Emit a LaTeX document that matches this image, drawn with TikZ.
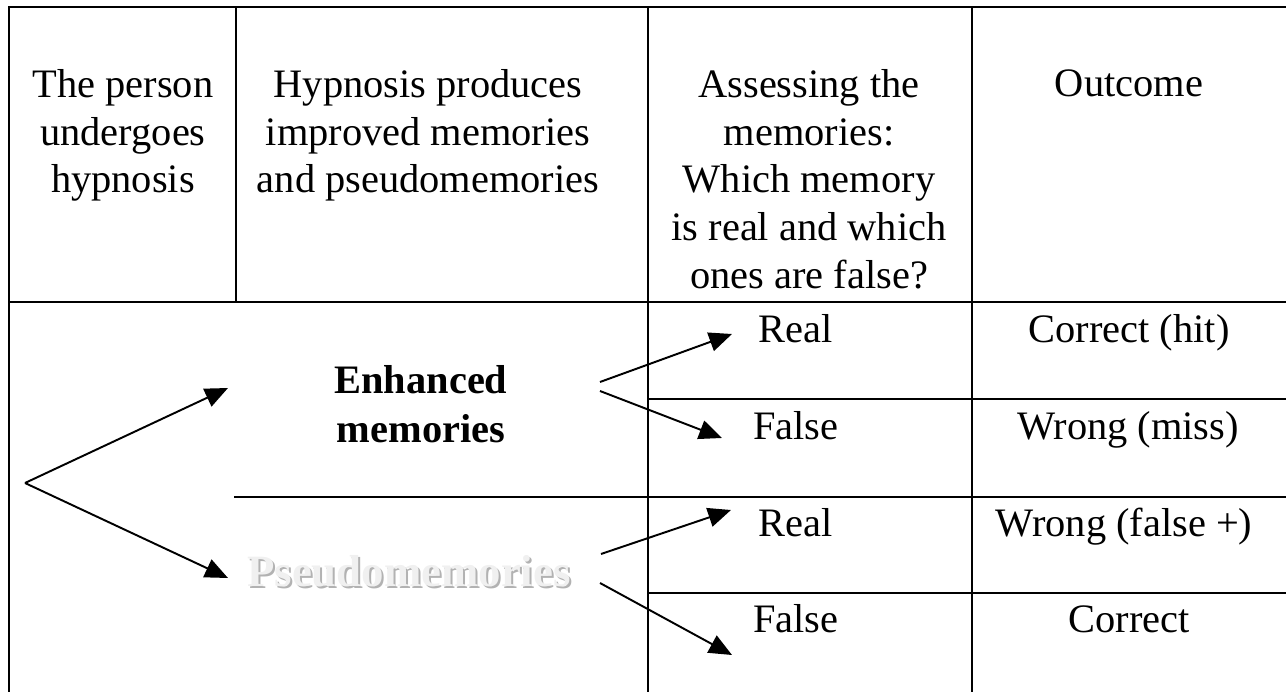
\documentclass[tikz,border=0pt]{standalone}
\usepackage{fontspec}
\setmainfont{Liberation Serif}
\usetikzlibrary{positioning,arrows.meta}
\newcommand{\cellfont}{\fontsize{23}{27.2}\selectfont}
\newcommand{\shadowgray}{gray!60}
\newcommand{\ghostgray}{gray!12}
\tikzset{
    rule/.style = { line width=1.6pt, },
    arrow/.style = { -{Triangle[length=13pt,width=11pt]},line width=1.1pt, },
    write/.style = { text=black,font=\cellfont,inner sep=0,align=center, },
    head/.style = { write,anchor=north, },
    entry/.style = { write,anchor=base, },
    strong/.style = { write,font=\cellfont\bfseries,anchor=base, },
    ghost/.style = { inner sep=0,anchor=base,font=\fontsize{25.5}{30}\selectfont\bfseries, },
}
\begin{document}
\begin{tikzpicture}[x=0.02cm,y=-0.02cm]

    \useasboundingbox (0,0) rectangle (1286,692);

    \draw [rule] (9,692) -- (9,7) -- (1286,7);
    \draw [rule] (9,302) -- (1286,302);
    \draw [rule] (236,7) -- (236,302);
    \draw [rule] (648,7) -- (648,692);
    \draw [rule] (972,7) -- (972,692);
    \draw [rule] (648,399) -- (1286,399);
    \draw [rule] (234,497) -- (1286,497);
    \draw [rule] (648,593) -- (1286,593);

    \node [head] (person) at (123,69) {The person\\undergoes\\hypnosis};
    \node [head] (produces) at (428,69) {Hypnosis produces\\improved memories\\and pseudomemories};
    \node [head] (assess) at (809,69) {Assessing the\\memories:\\Which memory\\is real and which\\ones are false?};
    \node [head] (outcome) at (1129,69) {Outcome};

    \node [entry] (real1) at (796,343) {Real};
    \node [entry] (false1) at (796,440) {False};
    \node [entry] (real2) at (796,537) {Real};
    \node [entry] (false2) at (796,633) {False};

    \node [entry] (hit) at (1129,343) {Correct (hit)};
    \node [entry] (miss) at (1128,440) {Wrong (miss)};
    \node [entry] (falsepos) at (1124,537) {Wrong (false +)};
    \node [entry] (correct) at (1129,633) {Correct};

    \node [strong] (enhanced) at (421,394) {Enhanced};
    \node [strong] (memories) at (421,443) {memories};

    \node [ghost,text=\shadowgray] (pseudoshadow) at (411,589) {Pseudomemories};
    \node [ghost,text=\ghostgray] (pseudo) at (409,587) {Pseudomemories};

    \coordinate (fan) at (25,483);
    \coordinate (fanup) at (228,388);
    \coordinate (fandown) at (228,578);
    \draw [arrow] (fan) -- (fanup);
    \draw [arrow] (fan) -- (fandown);

    \coordinate (eup) at (600,382);
    \coordinate (edown) at (600,391);
    \coordinate (eupend) at (732,334);
    \coordinate (edownend) at (722,438);
    \draw [arrow] (eup) -- (eupend);
    \draw [arrow] (edown) -- (edownend);

    \coordinate (pup) at (601,554);
    \coordinate (pdown) at (600,583);
    \coordinate (pupend) at (731,510);
    \coordinate (pdownend) at (732,655);
    \draw [arrow] (pup) -- (pupend);
    \draw [arrow] (pdown) -- (pdownend);

\end{tikzpicture}
\end{document}
